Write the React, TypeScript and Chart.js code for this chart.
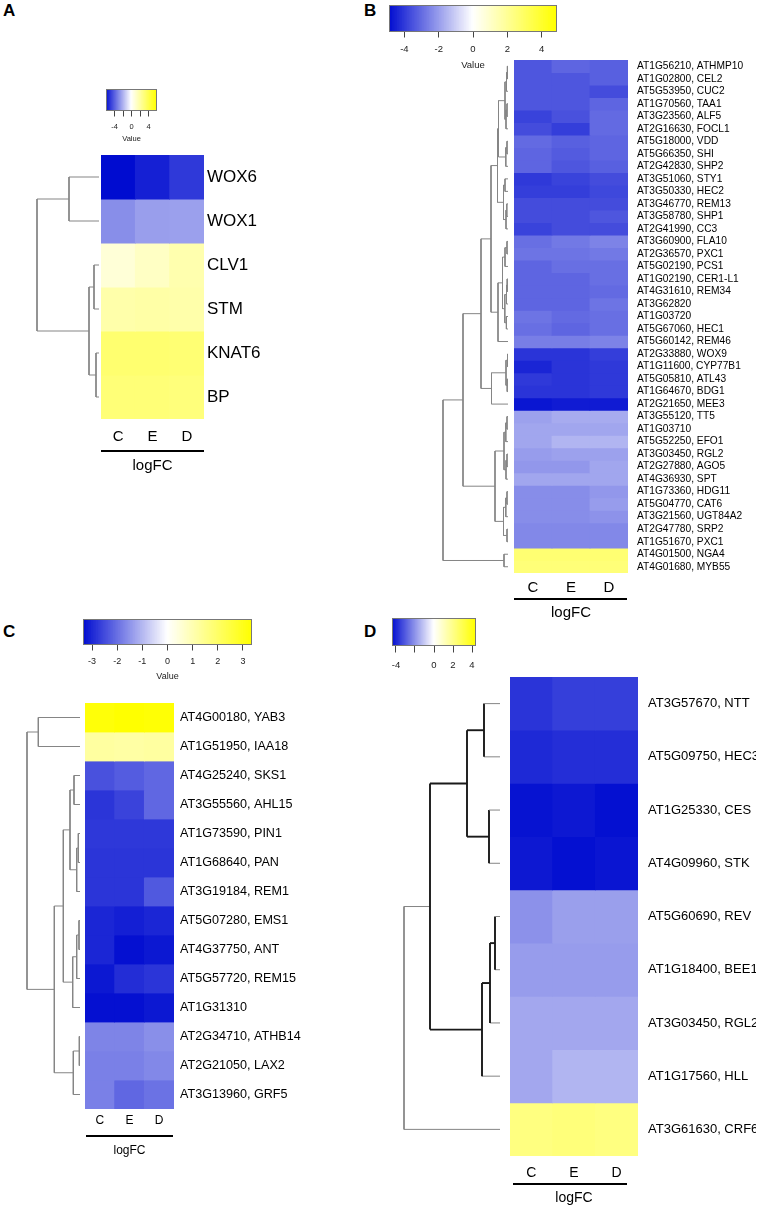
import React, { useEffect, useRef } from 'react';
import { Chart, registerables } from 'chart.js';

Chart.register(...registerables);

const FONT = '"Liberation Sans", Arial, Helvetica, sans-serif';

// ---------------- shared
const conditions = ['C', 'E', 'D'];

// ---------------- Panel A
const genesA = ['WOX6', 'WOX1', 'CLV1', 'STM', 'KNAT6', 'BP'];
const logFcA = [
  [-6.0, -5.5, -4.9],
  [-2.8, -2.4, -2.35],
  [0.95, 1.4, 1.9],
  [2.0, 2.1, 2.0],
  [3.4, 3.4, 3.3],
  [3.2, 3.2, 3.1],
];
// hclust-style merges: negative = leaf (1-based), positive = earlier merge, then height
const treeA = [
  [-1, -2, 30],
  [-3, -4, 5],
  [-5, -6, 3],
  [2, 3, 10],
  [1, 4, 62],
];
const keyRangeA = 6;
const keyTicksA = [-4, -2, 0, 2, 4];
const keyTickLabelsA = ['-4', '', '0', '', '4'];

// ---------------- Panel B
const genesB = [
  'AT1G56210, ATHMP10', 'AT1G02800, CEL2', 'AT5G53950, CUC2', 'AT1G70560, TAA1',
  'AT3G23560, ALF5', 'AT2G16630, FOCL1', 'AT5G18000, VDD', 'AT5G66350, SHI',
  'AT2G42830, SHP2', 'AT3G51060, STY1', 'AT3G50330, HEC2', 'AT3G46770, REM13',
  'AT3G58780, SHP1', 'AT2G41990, CC3', 'AT3G60900, FLA10', 'AT2G36570, PXC1',
  'AT5G02190, PCS1', 'AT1G02190, CER1-L1', 'AT4G31610, REM34', 'AT3G62820',
  'AT1G03720', 'AT5G67060, HEC1', 'AT5G60142, REM46', 'AT2G33880, WOX9',
  'AT1G11600, CYP77B1', 'AT5G05810, ATL43', 'AT1G64670, BDG1', 'AT2G21650, MEE3',
  'AT3G55120, TT5', 'AT1G03710', 'AT5G52250, EFO1', 'AT3G03450, RGL2',
  'AT2G27880, AGO5', 'AT4G36930, SPT', 'AT1G73360, HDG11', 'AT5G04770, CAT6',
  'AT3G21560, UGT84A2', 'AT2G47780, SRP2', 'AT1G51670, PXC1', 'AT4G01500, NGA4',
  'AT4G01680, MYB55',
];
const logFcB = [
  [-3.4, -3.1, -3.2],
  [-3.4, -3.4, -3.2],
  [-3.4, -3.4, -3.6],
  [-3.4, -3.4, -3.1],
  [-3.8, -3.5, -3.0],
  [-3.6, -3.9, -3.0],
  [-3.0, -3.2, -3.1],
  [-3.1, -3.3, -3.1],
  [-3.1, -3.4, -3.2],
  [-4.0, -3.8, -3.6],
  [-3.9, -3.9, -3.7],
  [-3.6, -3.6, -3.6],
  [-3.6, -3.6, -3.4],
  [-3.8, -3.6, -3.6],
  [-2.9, -2.7, -2.5],
  [-2.8, -2.8, -2.7],
  [-3.1, -2.9, -2.9],
  [-3.1, -3.1, -2.9],
  [-3.1, -3.1, -3.0],
  [-3.1, -3.1, -2.8],
  [-2.8, -3.0, -2.9],
  [-2.9, -3.1, -2.9],
  [-2.6, -2.6, -2.5],
  [-4.1, -4.1, -3.9],
  [-4.4, -4.1, -4.0],
  [-4.0, -4.1, -4.0],
  [-4.1, -4.1, -4.0],
  [-4.7, -4.6, -4.6],
  [-1.9, -1.7, -1.7],
  [-1.8, -1.8, -1.8],
  [-1.8, -1.5, -1.5],
  [-2.0, -1.9, -1.9],
  [-2.1, -2.1, -1.8],
  [-1.8, -1.8, -1.8],
  [-2.3, -2.3, -2.1],
  [-2.3, -2.3, -2.0],
  [-2.3, -2.3, -2.2],
  [-2.4, -2.4, -2.4],
  [-2.4, -2.4, -2.4],
  [2.7, 2.7, 2.7],
  [2.6, 2.6, 2.6],
];
const treeB = [
  [-1, -2, 0.6],
  [1, -3, 1.5],
  [-4, -5, 1.0],
  [3, -6, 2.0],
  [2, 4, 3.0],
  [-7, -8, 1.0],
  [6, -9, 2.2],
  [5, 7, 9.5],
  [-10, -11, 3.0],
  [-12, -13, 1.2],
  [10, -14, 2.0],
  [9, 11, 4.5],
  [8, 12, 10.5],
  [-15, -16, 1.0],
  [14, -17, 3.0],
  [-18, -19, 0.8],
  [16, -20, 1.5],
  [-21, -22, 1.6],
  [17, 18, 3.2],
  [15, 19, 5.5],
  [20, -23, 10.0],
  [13, 21, 17.0],
  [-24, -25, 0.5],
  [-26, -27, 0.8],
  [23, 24, 2.0],
  [25, -28, 16.5],
  [22, 26, 27.0],
  [-29, -30, 1.0],
  [28, -31, 2.2],
  [-32, -33, 1.0],
  [30, -34, 2.0],
  [29, 31, 4.0],
  [-35, -36, 1.0],
  [33, -37, 2.2],
  [-38, -39, 1.0],
  [34, 35, 4.5],
  [32, 36, 13.0],
  [27, 37, 45.0],
  [-40, -41, 4.0],
  [38, 39, 65.0],
];
const keyRangeB = 4.9;
const keyTicksB = [-4, -2, 0, 2, 4];
const keyTickLabelsB = ['-4', '-2', '0', '2', '4'];

// ---------------- Panel C
const genesC = [
  'AT4G00180, YAB3', 'AT1G51950, IAA18', 'AT4G25240, SKS1', 'AT3G55560, AHL15',
  'AT1G73590, PIN1', 'AT1G68640, PAN', 'AT3G19184, REM1', 'AT5G07280, EMS1',
  'AT4G37750, ANT', 'AT5G57720, REM15', 'AT1G31310', 'AT2G34710, ATHB14',
  'AT2G21050, LAX2', 'AT3G13960, GRF5',
];
const logFcC = [
  [3.25, 3.36, 3.3],
  [1.25, 1.2, 1.25],
  [-2.4, -2.25, -2.1],
  [-2.8, -2.6, -2.1],
  [-2.75, -2.75, -2.75],
  [-2.8, -2.8, -2.8],
  [-2.8, -2.8, -2.3],
  [-3.0, -3.1, -3.0],
  [-3.0, -3.3, -3.2],
  [-3.2, -2.9, -2.8],
  [-3.3, -3.3, -3.2],
  [-1.7, -1.7, -1.55],
  [-1.75, -1.75, -1.65],
  [-1.75, -2.1, -1.95],
];
const treeC = [
  [-1, -2, 41.7],
  [-3, -4, 6],
  [-5, -6, 1.7],
  [3, -7, 3.3],
  [2, 4, 10],
  [-8, -9, 1],
  [6, -10, 3.3],
  [7, -11, 7.3],
  [5, 8, 16.7],
  [-12, -13, 0.7],
  [10, -14, 6.7],
  [9, 11, 25.7],
  [1, 12, 53],
];
const keyRangeC = 3.36;
const keyTicksC = [-3, -2, -1, 0, 1, 2, 3];
const keyTickLabelsC = ['-3', '-2', '-1', '0', '1', '2', '3'];

// ---------------- Panel D
const genesD = [
  'AT3G57670, NTT', 'AT5G09750, HEC3', 'AT1G25330, CES', 'AT4G09960, STK',
  'AT5G60690, REV', 'AT1G18400, BEE1', 'AT3G03450, RGL2', 'AT1G17560, HLL',
  'AT3G61630, CRF6',
];
const logFcD = [
  [-3.7, -3.5, -3.5],
  [-3.9, -3.8, -3.8],
  [-4.3, -4.2, -4.35],
  [-4.2, -4.35, -4.25],
  [-2.0, -1.75, -1.75],
  [-1.8, -1.8, -1.8],
  [-1.6, -1.6, -1.6],
  [-1.6, -1.35, -1.35],
  [2.2, 2.3, 2.2],
];
const treeD = [
  [-1, -2, 16],
  [-3, -4, 11],
  [1, 2, 33],
  [-5, -6, 5],
  [4, -7, 10],
  [5, -8, 18],
  [3, 6, 70],
  [7, -9, 96],
];
const keyRangeD = 4.42;
const keyTicksD = [-4, -2, 0, 2, 4];
const keyTickLabelsD = ['-4', '', '0', '2', '4'];

// ---------------- colours
const BLUE = [0, 12, 208];
const WHITE = [255, 255, 255];
const YELLOW = [255, 255, 0];
function heatColor(v: number, range: number) {
  const f = Math.min(1, Math.abs(v) / range);
  const end = v < 0 ? BLUE : YELLOW;
  const c = WHITE.map((w, k) => Math.round(w + (end[k] - w) * f));
  return `rgb(${c[0]},${c[1]},${c[2]})`;
}

// ---------------- layout (pixels)
const layoutA = {
  letter: { text: 'A', x: 3, y: 2 },
  heat: { left: 101, top: 155, width: 103, height: 264, labelW: 100, labelFont: 17, labelPad: 3, colFont: 15, colPad: 9, axisH: 56, titleFont: 15, lineOffset: 32, inset: [0, 0] },
  dendro: { left: 32, right: 99, dark: false },
  key: { left: 106, top: 89, width: 51, height: 22, tickLen: 5.5, tickFont: 7.5, tickPad: 5.5, axisH: 32, title: true },
};
const layoutB = {
  letter: { text: 'B', x: 364, y: 2 },
  heat: { left: 514, top: 60, width: 114, height: 513, labelW: 122, labelFont: 10.2, labelPad: 9, colFont: 15, colPad: 6, axisH: 49, titleFont: 15, lineOffset: 26, inset: [0, 1] },
  dendro: { left: 438, right: 508, dark: false },
  key: { left: 389, top: 5, width: 168, height: 27, tickLen: 5.5, tickFont: 9.5, tickPad: 6.3, axisH: 39, title: true },
};
const layoutC = {
  letter: { text: 'C', x: 3, y: 623 },
  heat: { left: 85, top: 703, width: 89, height: 406, labelW: 145, labelFont: 12.6, labelPad: 6, colFont: 12, colPad: 4, axisH: 49, titleFont: 12, lineOffset: 27, inset: [1, 1] },
  dendro: { left: 22, right: 80, dark: false },
  key: { left: 83, top: 619, width: 169, height: 26, tickLen: 5.5, tickFont: 9, tickPad: 5.8, axisH: 37, title: true },
};
const layoutD = {
  letter: { text: 'D', x: 364, y: 623 },
  heat: { left: 510, top: 677, width: 128, height: 479, labelW: 118, labelFont: 13, labelPad: 10, colFont: 14, colPad: 8.6, axisH: 51, titleFont: 14, lineOffset: 28, inset: [3, 11] },
  dendro: { left: 399, right: 500, dark: true },
  key: { left: 392, top: 618, width: 84, height: 28, tickLen: 6.5, tickFont: 9.5, tickPad: 6.8, axisH: 30, title: false },
};

// ---------------- plugins
const underlinePlugin = {
  id: 'underline',
  afterDraw(chart: any, _a: any, opts: any) {
    const { ctx, chartArea } = chart;
    ctx.save();
    ctx.strokeStyle = '#000';
    ctx.lineWidth = opts.width;
    const y = chartArea.bottom + opts.offset;
    ctx.beginPath();
    ctx.moveTo(chartArea.left + opts.inset[0], y);
    ctx.lineTo(chartArea.right - opts.inset[1], y);
    ctx.stroke();
    ctx.restore();
  },
};
const boxPlugin = {
  id: 'keybox',
  afterDatasetsDraw(chart: any) {
    const { ctx, chartArea } = chart;
    ctx.save();
    ctx.strokeStyle = '#777';
    ctx.lineWidth = 1;
    ctx.strokeRect(chartArea.left + 0.5, chartArea.top + 0.5, chartArea.right - chartArea.left - 1, chartArea.bottom - chartArea.top - 1);
    ctx.restore();
  },
};

const noInteraction = { events: [] as any[], animation: false as const, responsive: false };

const zeroPad = (s: any) => {
  s.paddingTop = 0;
  s.paddingBottom = 0;
  s.paddingLeft = 0;
  s.paddingRight = 0;
};

// ---------------- components
function Heatmap({ genes, values, range, L }: any) {
  const ref = useRef<HTMLCanvasElement>(null);
  const M = 10;
  const h = L.heat;
  const cw = Math.round(M + h.width + h.labelW);
  const ch = Math.round(M + h.height + h.axisH);
  useEffect(() => {
    const n = genes.length;
    const chart = new Chart(ref.current as HTMLCanvasElement, {
      type: 'bar',
      data: {
        labels: conditions,
        datasets: genes.map((g: string, i: number) => ({
          label: g,
          data: conditions.map(() => [i, i + 1]),
          backgroundColor: values[i].map((v: number) => heatColor(v, range)),
          borderWidth: 0,
          grouped: false,
          barPercentage: 1,
          categoryPercentage: 1,
          inflateAmount: 0.4,
          yAxisID: 'y',
          xAxisID: 'x',
        })),
      },
      options: {
        ...noInteraction,
        layout: { padding: { left: M, top: M, right: 0, bottom: 0 } },
        plugins: {
          legend: { display: false },
          tooltip: { enabled: false },
          underline: { offset: h.lineOffset, inset: h.inset, width: 2 },
        } as any,
        scales: {
          x: {
            type: 'category',
            position: 'bottom',
            offset: true,
            grid: { display: false, drawTicks: false },
            border: { display: false },
            ticks: { color: '#000', font: { family: FONT, size: h.colFont }, padding: h.colPad, maxRotation: 0 },
            title: { display: true, text: 'logFC', color: '#000', font: { family: FONT, size: h.titleFont }, padding: { top: 0, bottom: 0 } },
            afterFit: (s: any) => { s.height = h.axisH; zeroPad(s); },
          },
          y: { type: 'linear', min: 0, max: n, reverse: true, display: false },
          y2: {
            type: 'category',
            labels: genes,
            position: 'right',
            offset: true,
            grid: { display: false, drawTicks: false },
            border: { display: false },
            ticks: { autoSkip: false, color: '#000', font: { family: FONT, size: h.labelFont }, padding: h.labelPad },
            afterFit: (s: any) => { s.width = h.labelW; zeroPad(s); },
          },
        } as any,
      },
      plugins: [underlinePlugin],
    } as any);
    return () => chart.destroy();
  }, []);
  return (
    <canvas ref={ref} width={cw} height={ch}
      style={{ position: 'absolute', left: h.left - M, top: h.top - M, width: cw, height: ch }} />
  );
}

function dendroSegments(tree: number[][], dark: boolean) {
  const pos: { h: number; y: number }[] = [];
  const segs: any[] = [];
  const GRAY = { color: '#858585', width: 1 };
  const DARK = { color: '#1a1a1a', width: 1.9 };
  tree.forEach(([a, b, ht], k) => {
    const ch = (c: number) => (c < 0 ? { h: 0, y: -c - 0.5, leaf: true } : { ...pos[c - 1], leaf: false });
    const A = ch(a);
    const B = ch(b);
    pos.push({ h: ht, y: (A.y + B.y) / 2 });
    const isRoot = k === tree.length - 1;
    const nodeStyle = dark && !isRoot ? DARK : GRAY;
    segs.push({ pts: [{ x: A.h, y: A.y }, { x: ht, y: A.y }], st: A.leaf ? GRAY : nodeStyle });
    segs.push({ pts: [{ x: ht, y: A.y }, { x: ht, y: B.y }], st: nodeStyle });
    segs.push({ pts: [{ x: ht, y: B.y }, { x: B.h, y: B.y }], st: B.leaf ? GRAY : nodeStyle });
  });
  return segs;
}

function Dendrogram({ tree, n, L }: any) {
  const ref = useRef<HTMLCanvasElement>(null);
  const d = L.dendro;
  const h = L.heat;
  const cw = Math.round(d.right - d.left);
  const ch = Math.round(h.height);
  useEffect(() => {
    const segs = dendroSegments(tree, d.dark);
    const chart = new Chart(ref.current as HTMLCanvasElement, {
      type: 'scatter',
      data: {
        datasets: segs.map((s) => ({
          data: s.pts,
          showLine: true,
          borderColor: s.st.color,
          borderWidth: s.st.width,
          pointRadius: 0,
          fill: false,
          clip: false,
        })),
      },
      options: {
        ...noInteraction,
        layout: { padding: 0 },
        plugins: { legend: { display: false }, tooltip: { enabled: false } },
        scales: {
          x: { type: 'linear', min: 0, max: cw, reverse: true, display: false },
          y: { type: 'linear', min: 0, max: n, reverse: true, display: false },
        },
      },
    } as any);
    return () => chart.destroy();
  }, []);
  return (
    <canvas ref={ref} width={cw} height={ch}
      style={{ position: 'absolute', left: d.left, top: h.top, width: cw, height: ch }} />
  );
}

function ColorKey({ range, ticks, tickLabels, L }: any) {
  const ref = useRef<HTMLCanvasElement>(null);
  const k = L.key;
  const PX = 10;
  const PT = 2;
  const cw = Math.round(k.width + 2 * PX);
  const ch = Math.round(PT + k.height + k.axisH);
  useEffect(() => {
    const NB = 100;
    const step = (2 * range) / NB;
    const bins = Array.from({ length: NB }, (_, i) => -range + (i + 0.5) * step);
    const chart = new Chart(ref.current as HTMLCanvasElement, {
      type: 'bar',
      data: {
        datasets: [{
          data: bins.map((c) => ({ x: c, y: 1 })),
          backgroundColor: bins.map((c) => heatColor(c, range)),
          borderWidth: 0,
          barPercentage: 1,
          categoryPercentage: 1,
          inflateAmount: 0.5,
        }],
      },
      options: {
        ...noInteraction,
        layout: { padding: { left: PX, right: PX, top: PT, bottom: 0 } },
        plugins: { legend: { display: false }, tooltip: { enabled: false } },
        scales: {
          x: {
            type: 'linear',
            min: -range,
            max: range,
            offset: false,
            afterBuildTicks: (s: any) => { s.ticks = ticks.map((v: number) => ({ value: v })); },
            grid: { display: true, drawOnChartArea: false, drawTicks: true, tickLength: k.tickLen, color: '#444', lineWidth: 1, offset: false },
            border: { display: false },
            ticks: {
              autoSkip: false,
              maxRotation: 0,
              color: '#222',
              padding: k.tickPad,
              font: { family: FONT, size: k.tickFont },
              callback: (_v: any, i: number) => tickLabels[i],
            },
            title: { display: k.title, text: 'Value', color: '#222', font: { family: FONT, size: k.tickFont }, padding: { top: 0, bottom: 0 } },
            afterFit: (s: any) => { s.height = k.axisH; zeroPad(s); },
          },
          y: { type: 'linear', min: 0, max: 1, display: false },
        },
      },
      plugins: [boxPlugin],
    } as any);
    return () => chart.destroy();
  }, []);
  return (
    <canvas ref={ref} width={cw} height={ch}
      style={{ position: 'absolute', left: k.left - PX, top: k.top - PT, width: cw, height: ch }} />
  );
}

function Panel({ genes, values, tree, range, ticks, tickLabels, L }: any) {
  return (
    <>
      <div style={{ position: 'absolute', left: L.letter.x, top: L.letter.y, fontFamily: FONT, fontWeight: 'bold', fontSize: 17, lineHeight: '17px', color: '#000' }}>
        {L.letter.text}
      </div>
      <ColorKey range={range} ticks={ticks} tickLabels={tickLabels} L={L} />
      <Dendrogram tree={tree} n={genes.length} L={L} />
      <Heatmap genes={genes} values={values} range={range} L={L} />
    </>
  );
}

export default function App() {
  return (
    <div style={{ position: 'absolute', left: 0, top: 0, width: 759, height: 1209, background: '#fff', overflow: 'hidden' }}>
      <Panel genes={genesA} values={logFcA} tree={treeA} range={keyRangeA} ticks={keyTicksA} tickLabels={keyTickLabelsA} L={layoutA} />
      <Panel genes={genesB} values={logFcB} tree={treeB} range={keyRangeB} ticks={keyTicksB} tickLabels={keyTickLabelsB} L={layoutB} />
      <Panel genes={genesC} values={logFcC} tree={treeC} range={keyRangeC} ticks={keyTicksC} tickLabels={keyTickLabelsC} L={layoutC} />
      <Panel genes={genesD} values={logFcD} tree={treeD} range={keyRangeD} ticks={keyTicksD} tickLabels={keyTickLabelsD} L={layoutD} />
    </div>
  );
}
